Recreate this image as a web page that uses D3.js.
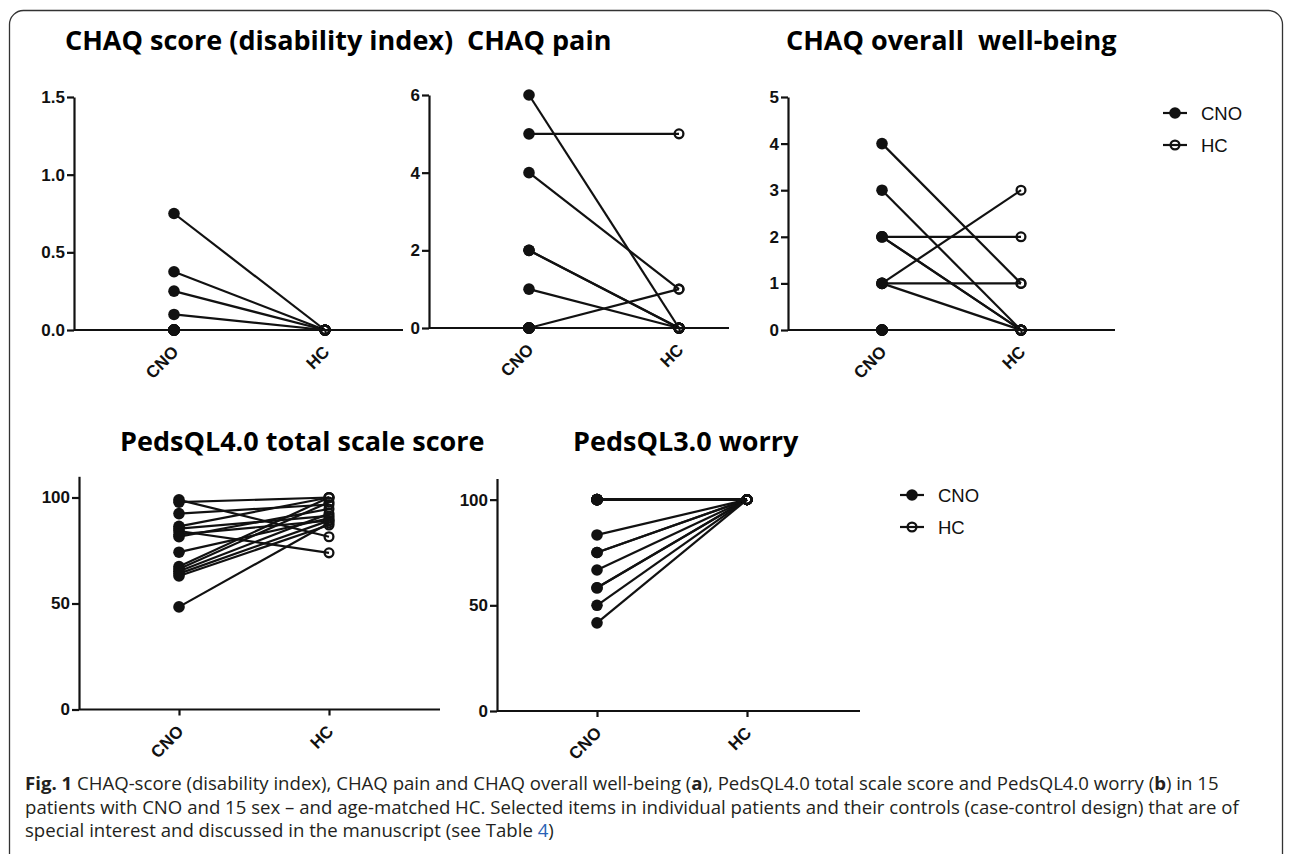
<!DOCTYPE html>
<html>
<head>
<meta charset="utf-8">
<script src="https://cdnjs.cloudflare.com/ajax/libs/d3/7.8.5/d3.min.js"></script>
<style>
body { margin: 0; background: #fff; }
svg text { font-family: "Liberation Sans", Arial, sans-serif; }
.title { font-family: "Open Sans", sans-serif; font-weight: 700; font-size: 27px; fill: #000; white-space: pre; }
.axis text { font-family: "Liberation Sans", Arial, sans-serif; font-weight: 700; font-size: 17px; fill: #111; }
.axis path, .axis line { stroke: #111; stroke-width: 2.2; }
.legend text { font-size: 18.5px; fill: #111; }
.caption { font-family: "Open Sans", sans-serif; font-size: 18.6px; fill: #231f20; }
</style>
</head>
<body>
<svg id="fig" width="1292" height="854"></svg>
<script>
// categories
const groups = ["CNO", "HC"];

// one value per patient (15 patients), CNO vs matched HC
const chaqScoreCNO = [0.75, 0.375, 0.25, 0.1, 0, 0, 0, 0, 0, 0, 0, 0, 0, 0, 0];
const chaqScoreHC  = [0, 0, 0, 0, 0, 0, 0, 0, 0, 0, 0, 0, 0, 0, 0];

const chaqPainCNO = [6, 5, 4, 2, 2, 1, 0, 0, 0, 0, 0, 0, 0, 0, 0];
const chaqPainHC  = [0, 5, 1, 0, 0, 0, 1, 0, 0, 0, 0, 0, 0, 0, 0];

const chaqWellCNO = [4, 3, 2, 2, 2, 1, 1, 1, 0, 0, 0, 0, 0, 0, 0];
const chaqWellHC  = [1, 0, 2, 0, 0, 3, 1, 0, 0, 0, 0, 0, 0, 0, 0];

const pedsTotalCNO = [98.9, 97.8, 92.4, 86.4, 85.3, 84.2, 82.6, 81.5, 74.2, 67.4, 66.3, 65.2, 64.1, 63.0, 48.4];
const pedsTotalHC  = [81.5, 100, 96.7, 100, 91.3, 73.9, 89.1, 94.6, 90.2, 100, 97.8, 92.4, 89.1, 87.0, 88.0];

const pedsWorryCNO = [100, 100, 100, 100, 100, 100, 100, 83.3, 75, 75, 66.7, 58.3, 58.3, 50, 41.7];
const pedsWorryHC  = [100, 100, 100, 100, 100, 100, 100, 100, 100, 100, 100, 100, 100, 100, 100];

// tick labels
const ticksScore = [0, 0.5, 1.0, 1.5];
const ticksPain = [0, 2, 4, 6];
const ticksWell = [0, 1, 2, 3, 4, 5];
const ticksPeds = [0, 50, 100];

const titles = ["CHAQ score (disability index)", "CHAQ pain", "CHAQ overall  well-being",
  "PedsQL4.0 total scale score", "PedsQL3.0 worry"];

// layout of each panel
const panels = [
  { title: titles[0], tx: 65, ty: 50, x0: 74, cno: 174, hc: 325, xEnd: 403, yBot: 330, yTop: 97,
    max: 1.5, ticks: ticksScore, fmt: d3.format(".1f"), cnoV: chaqScoreCNO, hcV: chaqScoreHC },
  { title: titles[1], tx: 467, ty: 50, x0: 429, cno: 529, hc: 679, xEnd: 729, yBot: 328, yTop: 95,
    max: 6, ticks: ticksPain, fmt: d3.format("d"), cnoV: chaqPainCNO, hcV: chaqPainHC },
  { title: titles[2], tx: 786, ty: 50, x0: 788, cno: 882, hc: 1021, xEnd: 1115, yBot: 330, yTop: 97,
    max: 5, ticks: ticksWell, fmt: d3.format("d"), cnoV: chaqWellCNO, hcV: chaqWellHC },
  { title: titles[3], tx: 120, ty: 451, x0: 79, cno: 179, hc: 329, xEnd: 440, yBot: 709.5, yTop: 476.3,
    max: 110, ticks: ticksPeds, fmt: d3.format("d"), cnoV: pedsTotalCNO, hcV: pedsTotalHC },
  { title: titles[4], tx: 573, ty: 451, x0: 497, cno: 597, hc: 747, xEnd: 860, yBot: 711, yTop: 478.5,
    max: 110, ticks: ticksPeds, fmt: d3.format("d"), cnoV: pedsWorryCNO, hcV: pedsWorryHC }
];

const svg = d3.select("#fig");

// outer frame (open at the bottom)
svg.append("rect")
  .attr("x", 9.5).attr("y", 10.5)
  .attr("width", 1273).attr("height", 900)
  .attr("rx", 14)
  .attr("fill", "none")
  .attr("stroke", "#333")
  .attr("stroke-width", 1.3);

panels.forEach(function (p) {
  const g = svg.append("g");

  g.append("text")
    .attr("class", "title")
    .attr("xml:space", "preserve")
    .attr("x", p.tx).attr("y", p.ty)
    .text(p.title);

  const x = d3.scalePoint().domain(groups).range([p.cno, p.hc]);
  const y = d3.scaleLinear().domain([0, p.max]).range([p.yBot, p.yTop]);

  // x axis baseline
  g.append("line")
    .attr("x1", p.x0).attr("x2", p.xEnd)
    .attr("y1", y(0)).attr("y2", y(0))
    .attr("stroke", "#111").attr("stroke-width", 2.2);

  const xa = g.append("g")
    .attr("class", "axis")
    .attr("transform", "translate(0," + y(0) + ")")
    .call(d3.axisBottom(x).tickSize(6).tickSizeOuter(0));
  xa.select(".domain").remove();
  xa.selectAll("text")
    .attr("x", 0).attr("y", 0).attr("dy", 0)
    .attr("transform", "translate(5,23) rotate(-45)")
    .style("text-anchor", "end");

  g.append("g")
    .attr("class", "axis")
    .attr("transform", "translate(" + p.x0 + ",0)")
    .call(d3.axisLeft(y).tickValues(p.ticks).tickFormat(p.fmt).tickSize(7).tickPadding(2).tickSizeOuter(0));

  const pairs = p.cnoV.map((v, i) => ({ a: v, b: p.hcV[i] }));

  g.selectAll(".pair")
    .data(pairs)
    .enter()
    .append("line")
    .attr("x1", x("CNO")).attr("x2", x("HC"))
    .attr("y1", d => y(d.a)).attr("y2", d => y(d.b))
    .attr("stroke", "#111")
    .attr("stroke-width", 2.2);

  g.selectAll(".cno")
    .data(p.cnoV)
    .enter()
    .append("circle")
    .attr("cx", x("CNO"))
    .attr("cy", d => y(d))
    .attr("r", 5.8)
    .attr("fill", "#111");

  g.selectAll(".hc")
    .data(p.hcV)
    .enter()
    .append("circle")
    .attr("cx", x("HC"))
    .attr("cy", d => y(d))
    .attr("r", 4.4)
    .attr("fill", "none")
    .attr("stroke", "#111")
    .attr("stroke-width", 2.3);
});

// legends
function legend(x0, y0) {
  const lg = svg.append("g").attr("class", "legend");
  const ly = d3.scalePoint().domain(groups).range([y0, y0 + 32]);
  groups.forEach(function (k) {
    lg.append("line")
      .attr("x1", x0 - 12).attr("x2", x0 + 12)
      .attr("y1", ly(k)).attr("y2", ly(k))
      .attr("stroke", "#111").attr("stroke-width", 2.2);
    lg.append("circle")
      .attr("cx", x0).attr("cy", ly(k))
      .attr("r", k === "CNO" ? 5.8 : 4.4)
      .attr("fill", k === "CNO" ? "#111" : "none")
      .attr("stroke", "#111")
      .attr("stroke-width", k === "CNO" ? 0 : 2.3);
    lg.append("text")
      .attr("x", x0 + 26).attr("y", ly(k))
      .attr("dy", "0.36em")
      .text(k);
  });
}
legend(1175, 113);
legend(912, 495);

// caption
const cap = svg.append("text").attr("class", "caption");
const l1 = cap.append("tspan").attr("x", 25).attr("y", 790);
l1.append("tspan").style("font-weight", 700).text("Fig. 1");
l1.append("tspan").text(" CHAQ-score (disability index), CHAQ pain and CHAQ overall well-being (");
l1.append("tspan").style("font-weight", 700).text("a");
l1.append("tspan").text("), PedsQL4.0 total scale score and PedsQL4.0 worry (");
l1.append("tspan").style("font-weight", 700).text("b");
l1.append("tspan").text(") in 15");
cap.append("tspan").attr("x", 25).attr("y", 813.5)
  .text("patients with CNO and 15 sex \u2013 and age-matched HC. Selected items in individual patients and their controls (case-control design) that are of");
const l3 = cap.append("tspan").attr("x", 25).attr("y", 837);
l3.append("tspan").text("special interest and discussed in the manuscript (see Table ");
l3.append("tspan").style("fill", "#2a62b5").text("4");
l3.append("tspan").text(")");
</script>
</body>
</html>
